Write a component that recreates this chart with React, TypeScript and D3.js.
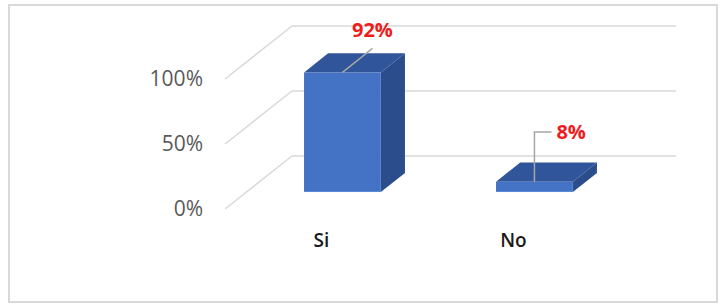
import React from 'react';
import { scaleBand, scaleLinear } from 'd3';

const categories = ['Si', 'No'];
const values = [92, 8];
const valueLabels = ['92%', '8%'];
const yTicks = [0, 50, 100];
const yTickLabels = ['0%', '50%', '100%'];

const width = 724;
const height = 306;

// oblique depth: back wall -> front edge of the floor
const depthX = -67;
const depthY = 53;
const zBack = 0.32; // bar back face (fraction from back wall)
const zFront = 0.68; // bar front face

const font = '"Open Sans", "Liberation Sans", sans-serif';

function App() {
  const x = scaleBand<string>()
    .domain(categories)
    .range([292, 676])
    .paddingInner(0.6)
    .paddingOuter(0.3);

  const y = scaleLinear().domain([0, 100]).range([156, 26]);

  const proj = (px: number, py: number, z: number): [number, number] => [
    px + depthX * z,
    py + depthY * z,
  ];
  const pts = (arr: [number, number][]) => arr.map((p) => p.join(',')).join(' ');

  const [x0, x1] = x.range();

  return (
    <svg
      width={width}
      height={height}
      style={{ position: 'absolute', left: 0, top: 0, background: '#fff' }}
    >
      <rect x={9} y={5} width={708} height={297} fill="#fff" stroke="#d9d9d9" strokeWidth={2} />

      {/* gridlines: back wall + floor diagonal */}
      {yTicks.map((t, i) => {
        const gy = y(t);
        const [fx, fy] = proj(x0, gy, 1);
        return (
          <g key={t}>
            <line x1={x0} x2={x1} y1={gy} y2={gy} stroke="#d9d9d9" strokeWidth={1.5} />
            <line x1={x0} y1={gy} x2={fx} y2={fy} stroke="#d9d9d9" strokeWidth={1.5} />
            <text
              x={203}
              y={fy}
              dy="0.35em"
              textAnchor="end"
              fontFamily={font}
              fontSize={21}
              fill="#595959"
            >
              {yTickLabels[i]}
            </text>
          </g>
        );
      })}

      {/* bars */}
      {categories.map((c, i) => {
        const bx0 = x(c)!;
        const bx1 = bx0 + x.bandwidth();
        const top = y(values[i]);
        const bottom = y(0);
        const fTL = proj(bx0, top, zFront);
        const fTR = proj(bx1, top, zFront);
        const fBR = proj(bx1, bottom, zFront);
        const fBL = proj(bx0, bottom, zFront);
        const bTL = proj(bx0, top, zBack);
        const bTR = proj(bx1, top, zBack);
        const bBR = proj(bx1, bottom, zBack);
        return (
          <g key={c}>
            <polygon points={pts([fTR, bTR, bBR, fBR])} fill="#2c4d8c" />
            <polygon points={pts([fTL, bTL, bTR, fTR])} fill="#30559a" />
            <polygon points={pts([fTL, fTR, fBR, fBL])} fill="#4472c4" />
            <line x1={fBL[0]} x2={fBR[0]} y1={fBL[1] - 0.5} y2={fBR[1] - 0.5} stroke="#5b8ad8" strokeWidth={1} />
          </g>
        );
      })}

      {/* leader lines and value labels */}
      {categories.map((c, i) => {
        const cx = x(c)! + x.bandwidth() / 2;
        const [sx, sy] = proj(cx, y(values[i]), zFront);
        if (i === 0) {
          return (
            <g key={c}>
              <line x1={sx} y1={sy} x2={sx + 30} y2={sy - 24} stroke="#a6a6a6" strokeWidth={1.5} />
              <text
                x={sx + 30}
                y={sy - 35}
                textAnchor="middle"
                fontFamily={font}
                fontSize={20}
                fontWeight={700}
                fill="#ee1c1c"
              >
                {valueLabels[i]}
              </text>
            </g>
          );
        }
        return (
          <g key={c}>
            <polyline
              points={pts([[sx, sy], [sx, 132], [sx + 17, 132]])}
              fill="none"
              stroke="#a6a6a6"
              strokeWidth={1.5}
            />
            <text
              x={sx + 22}
              y={132}
              dy="0.35em"
              fontFamily={font}
              fontSize={20}
              fontWeight={700}
              fill="#ee1c1c"
            >
              {valueLabels[i]}
            </text>
          </g>
        );
      })}

      {/* category labels on the front edge */}
      {categories.map((c) => {
        const cx = x(c)! + x.bandwidth() / 2;
        const [lx] = proj(cx, y(0), zFront);
        return (
          <text
            key={c}
            x={lx - 21}
            y={247}
            textAnchor="middle"
            fontFamily={font}
            fontSize={19}
            fontWeight={600}
            fill="#1a1a1a"
          >
            {c}
          </text>
        );
      })}
    </svg>
  );
}

export default App;
